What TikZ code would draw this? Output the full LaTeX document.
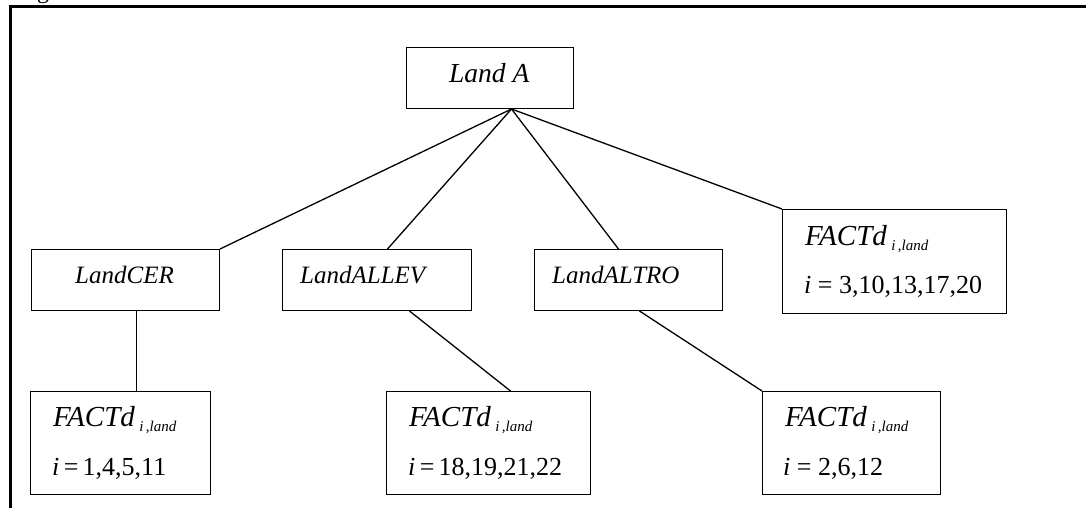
\documentclass[tikz,border=0pt]{standalone}
\usepackage{fontspec}
\setmainfont{Liberation Serif}
\usetikzlibrary{calc}
\newcommand\factlbl{{\fontsize{29}{32}\selectfont\textit{FACTd}}\,\raisebox{-5pt}{\fontsize{15}{15}\selectfont\textit{i\,},\textit{land}}}
\begin{document}
\begin{tikzpicture}[x=1pt,y=-1pt,
  box/.style={draw,line width=1pt,inner sep=0pt,anchor=north west},
  conn/.style={line width=1.3pt},
  frame/.style={line width=3pt},
  lbl/.style={anchor=base west,inner sep=0pt,font=\fontsize{25}{29}\selectfont\itshape},
  biglbl/.style={anchor=base west,inner sep=0pt,font=\fontsize{26}{30}\selectfont}]
\useasboundingbox (0,0) rectangle (1086,508);
% frame
\coordinate (fl) at (10,508);
\coordinate (fc) at (10,7);
\coordinate (fr) at (1086,7);
\draw[frame] (fl) -- (fc) -- (fr);
\node[anchor=base west,inner sep=0pt,font=\fontsize{24}{28}\selectfont] (gch) at (37,-1) {g};
% boxes
\node[box,minimum width=167pt,minimum height=61pt] (A) at (406,47) {};
\node[box,minimum width=188pt,minimum height=61pt] (CER) at (31,249) {};
\node[box,minimum width=189pt,minimum height=61pt] (ALLEV) at (282,249) {};
\node[box,minimum width=188pt,minimum height=61pt] (ALTRO) at (534,249) {};
\node[box,minimum width=224pt,minimum height=104pt] (F1) at (782,209) {};
\node[box,minimum width=180pt,minimum height=103pt] (F2) at (30,391) {};
\node[box,minimum width=204pt,minimum height=103pt] (F3) at (386,391) {};
\node[box,minimum width=178pt,minimum height=103pt] (F4) at (762,391) {};
% labels
\node[biglbl,font=\fontsize{27.5}{31}\selectfont\itshape] (tA) at (449,83) {Land A};
\node[lbl] (tCER) at (75,283) {LandCER};
\node[lbl] (tALLEV) at (300,283) {LandALLEV};
\node[lbl] (tALTRO) at (552,283) {LandALTRO};
\node[biglbl] (tF1a) at (805,245) {\factlbl};
\node[biglbl] (tF1b) at (804,293) {\textit{i} = 3,10,13,17,20};
\node[biglbl] (tF2a) at (53,426) {\factlbl};
\node[biglbl] (tF2b) at (52,475) {\textit{i}\,=\,1,4,5,11};
\node[biglbl] (tF3a) at (409,426) {\factlbl};
\node[biglbl] (tF3b) at (408,475) {\textit{i}\,=\,18,19,21,22};
\node[biglbl] (tF4a) at (785,426) {\factlbl};
\node[biglbl] (tF4b) at (783,475) {\textit{i} = 2,6,12};
% connectors
\coordinate (apex) at ([xshift=21.5pt]A.south);
\draw[conn] (apex) -- (CER.north east);
\draw[conn] (apex) -- ([xshift=10.5pt]ALLEV.north);
\draw[conn] (apex) -- ([xshift=-10pt]ALTRO.north);
\draw[conn] (apex) -- (F1.north west);
\draw[conn] ([xshift=11pt]CER.south) -- ([xshift=16pt]F2.north);
\draw[conn] ([xshift=32.5pt]ALLEV.south) -- ([xshift=22pt]F3.north);
\draw[conn] ([xshift=11pt]ALTRO.south) -- (F4.north west);
\end{tikzpicture}
\end{document}
